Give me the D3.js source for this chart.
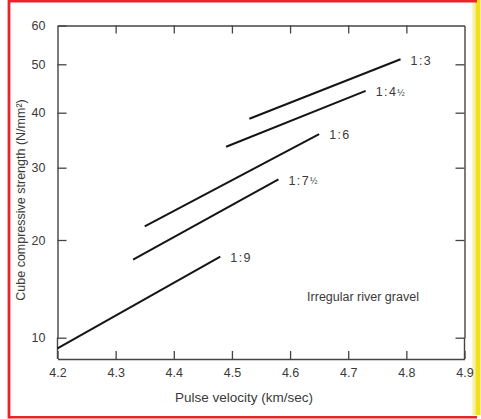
<!DOCTYPE html>
<html>
<head>
<meta charset="utf-8">
<script src="https://cdn.jsdelivr.net/npm/d3@7"></script>
<style>
  body { margin: 0; background: #fff; }
  text { font-family: "Liberation Sans", Arial, sans-serif; fill: #3a3a3a; }
</style>
</head>
<body>
<div id="chart"></div>
<script>
// dades del gràfic
let mixes = ['1:3', '1:4', '1:6', '1:7', '1:9']
let halves = ['', '½', '', '½', '']
let velInici = [4.53, 4.49, 4.35, 4.33, 4.20]
let velFinal = [4.79, 4.73, 4.65, 4.58, 4.48]
let resInici = [38.9, 33.8, 21.9, 18.0, 8.9]
let resFinal = [51.3, 44.5, 36.1, 28.4, 18.3]
let xTicks = [4.2, 4.3, 4.4, 4.5, 4.6, 4.7, 4.8, 4.9]
let yTicks = [10, 20, 30, 40, 50, 60]
let nota = 'Irregular river gravel'

// mides
let ample = 481
let alt = 419
let esq = 57.5
let dre = 464.5
let dalt = 25.5
let baix = 359
// posicions dels ticks de l'eix y (escala no lineal de l'original)
let yPos = [337.7, 240, 167.7, 112.7, 64.3, dalt]

let svg = d3.select('#chart')
  .append('svg')
  .attr('width', ample)
  .attr('height', alt)

svg.append('rect').attr('width', ample).attr('height', alt).attr('fill', '#fff')

// marc vermell i franja groga
svg.append('rect').attr('x', 472.5).attr('y', 0).attr('width', 3).attr('height', 415).attr('fill', '#f7f0a8')
svg.append('rect').attr('x', 475.5).attr('y', 0).attr('width', 5).attr('height', 415).attr('fill', '#f2e01a')
svg.append('line').attr('x1', 9).attr('x2', 477).attr('y1', 1.2).attr('y2', 1.2)
  .attr('stroke', '#e8252b').attr('stroke-width', 2.5)
svg.append('line').attr('x1', 9).attr('x2', 477).attr('y1', 417.3).attr('y2', 417.3)
  .attr('stroke', '#e8252b').attr('stroke-width', 2.5)
svg.append('line').attr('x1', 9).attr('x2', 9).attr('y1', 0).attr('y2', 418.5)
  .attr('stroke', '#e8252b').attr('stroke-width', 2.8)

let x = d3.scaleLinear().domain([4.2, 4.9]).range([esq, dre])
let y = d3.scaleLinear().domain(yTicks).range(yPos)

function estilEix(g) {
  g.select('.domain').attr('stroke', '#444').attr('stroke-width', 1.4)
  g.selectAll('.tick line').attr('stroke', '#444').attr('stroke-width', 1.3)
  g.selectAll('.tick text')
    .attr('font-family', '"Liberation Sans", Arial, sans-serif')
    .attr('font-size', 12.5)
    .attr('fill', '#3a3a3a')
}

svg.append('g')
  .attr('transform', `translate(0,${baix})`)
  .call(d3.axisBottom(x).tickValues(xTicks).tickSize(-8).tickSizeOuter(0).tickPadding(9).tickFormat(d3.format('.1f')))
  .call(estilEix)

svg.append('g')
  .attr('transform', `translate(0,${dalt})`)
  .call(d3.axisTop(x).tickValues(xTicks.slice(1, -1)).tickSize(-8).tickSizeOuter(0).tickFormat(''))
  .call(estilEix)

svg.append('g')
  .attr('transform', `translate(${esq},0)`)
  .call(d3.axisLeft(y).tickValues(yTicks).tickSize(-9).tickSizeOuter(0).tickPadding(12).tickFormat(d3.format('d')))
  .call(estilEix)

svg.append('g')
  .attr('transform', `translate(${dre},0)`)
  .call(d3.axisRight(y).tickValues(yTicks.slice(0, -1)).tickSize(-9).tickSizeOuter(0).tickFormat(''))
  .call(estilEix)

// tanquem el marc per sota del 10
svg.append('line').attr('x1', esq).attr('x2', esq).attr('y1', y(10)).attr('y2', baix)
  .attr('stroke', '#444').attr('stroke-width', 1.4)
svg.append('line').attr('x1', dre).attr('x2', dre).attr('y1', y(10)).attr('y2', baix)
  .attr('stroke', '#444').attr('stroke-width', 1.4)

// rectes
let linia = d3.line().x(d => x(d[0])).y(d => y(d[1]))
mixes.forEach((m, i) => {
  svg.append('path')
    .attr('d', linia([[velInici[i], resInici[i]], [velFinal[i], resFinal[i]]]))
    .attr('fill', 'none')
    .attr('stroke', '#151515')
    .attr('stroke-width', 2)

  let t = svg.append('text')
    .attr('x', x(velFinal[i]) + 10)
    .attr('y', y(resFinal[i]) + 2)
    .attr('dominant-baseline', 'middle')
    .attr('font-size', 12.5)
    .attr('letter-spacing', 1.4)
    .text(m)
  if (halves[i]) {
    t.append('tspan').attr('font-size', 9).attr('dy', 1).attr('letter-spacing', 0).text(halves[i])
  }
})

svg.append('text')
  .attr('x', 363)
  .attr('y', 298)
  .attr('text-anchor', 'middle')
  .attr('dominant-baseline', 'middle')
  .attr('font-size', 12.5)
  .text(nota)

svg.append('text')
  .attr('x', 244)
  .attr('y', 398)
  .attr('text-anchor', 'middle')
  .attr('dominant-baseline', 'middle')
  .attr('font-size', 13.5)
  .text('Pulse velocity (km/sec)')

svg.append('text')
  .attr('transform', 'translate(22,200) rotate(-90)')
  .attr('text-anchor', 'middle')
  .attr('dominant-baseline', 'middle')
  .attr('font-size', 12.5)
  .text('Cube compressive strength (N/mm²)')
</script>
</body>
</html>
